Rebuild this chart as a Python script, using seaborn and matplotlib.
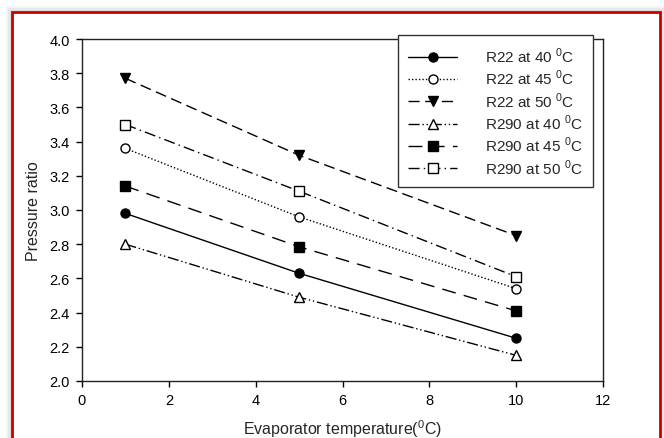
import matplotlib
matplotlib.use("Agg")
import matplotlib.pyplot as plt
import seaborn as sns
import pandas as pd
from matplotlib.patches import Rectangle

# Evaporator temperatures (deg C)
evap_temp = [1, 5, 10]

# Pressure ratio
r22_40 = [2.98, 2.63, 2.25]
r22_45 = [3.36, 2.96, 2.54]
r22_50 = [3.77, 3.32, 2.85]
r290_40 = [2.80, 2.49, 2.15]
r290_45 = [3.14, 2.785, 2.41]
r290_50 = [3.50, 3.11, 2.61]

labels = ["R22 at 40 $^0$C", "R22 at 45 $^0$C", "R22 at 50 $^0$C",
          "R290 at 40 $^0$C", "R290 at 45 $^0$C", "R290 at 50 $^0$C"]
series = [r22_40, r22_45, r22_50, r290_40, r290_45, r290_50]

# (linestyle, marker, filled)
styles = [
    ("-", "o", True),
    ((0, (1, 1.5)), "o", False),
    ((0, (8, 4)), "v", True),
    ((0, (8, 2, 1, 2, 1, 2)), "^", False),
    ((0, (10, 6)), "s", True),
    ((0, (8, 3, 1, 3)), "s", False),
]

df = pd.concat([pd.DataFrame({"x": evap_temp, "y": s, "series": lab})
                for s, lab in zip(series, labels)], ignore_index=True)

sns.set_style("ticks")
plt.rcParams["font.family"] = ["Liberation Sans", "DejaVu Sans"]
plt.rcParams["mathtext.fontset"] = "custom"
plt.rcParams["mathtext.rm"] = "Liberation Sans"

fig = plt.figure(figsize=(6.64, 4.39), dpi=100)

# soft shadow + red frame around the whole chart
for i, c in enumerate(["#f4f4f4", "#e8e8e8", "#dcdcdc"]):
    d = (3 - i) * 2
    fig.patches.append(Rectangle(((12 - d) / 664, -0.05), (648 + 2 * d) / 664,
                                 1.05 - (13 - d) / 439, transform=fig.transFigure,
                                 facecolor=c, edgecolor="none", zorder=-3))
fig.patches.append(Rectangle((12 / 664, -0.05), 648 / 664, 1.05 - 13 / 439,
                             transform=fig.transFigure, facecolor="white",
                             edgecolor="#cc0000", linewidth=2, zorder=-2))

ax = fig.add_axes([82 / 664, 1 - 382 / 439, 521 / 664, 342 / 439])
ax.set_facecolor("none")

for lab, (ls, mk, filled) in zip(labels, styles):
    sub = df[df["series"] == lab]
    sns.lineplot(data=sub, x="x", y="y", ax=ax, color="black", linestyle=ls,
                 linewidth=1, marker=mk, markersize=6.5,
                 markerfacecolor="black" if filled else "white",
                 markeredgecolor="black", markeredgewidth=1, label=lab)

ax.set_xlim(0, 12)
ax.set_ylim(2.0, 4.0)
ax.set_xticks(range(0, 13, 2))
ax.set_yticks([2.0 + 0.2 * i for i in range(11)])
ax.set_yticklabels([f"{2.0 + 0.2 * i:.1f}" for i in range(11)])
ax.tick_params(axis="both", labelsize=10.5, direction="out", length=4,
               width=1, colors="black", top=False, right=False, pad=5)
for sp in ax.spines.values():
    sp.set_linewidth(1)
    sp.set_color("#222222")

ax.set_xlabel("Evaporator temperature($^0$C)", fontsize=11.5, labelpad=7)
ax.set_ylabel("Pressure ratio", fontsize=11.5, labelpad=6)

leg = ax.legend(loc="upper left", bbox_to_anchor=(0.606, 1.012), fontsize=11,
                frameon=True, fancybox=False, edgecolor="#333333",
                framealpha=1, handlelength=3.2, labelspacing=0.2,
                borderpad=0.7, handletextpad=1.8, borderaxespad=0)
leg.get_frame().set_linewidth(1)

fig.savefig("out.png", dpi=100)
